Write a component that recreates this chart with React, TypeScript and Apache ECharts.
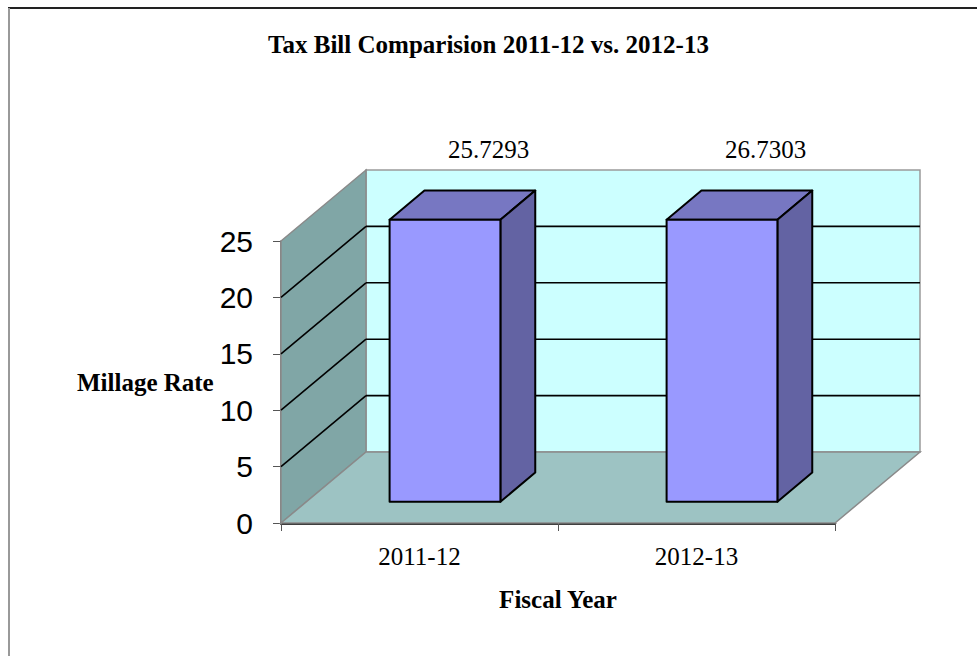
import React, { useEffect, useRef } from "react";
import * as echarts from "echarts";

const categories = ["2011-12", "2012-13"];
const millageRates = [25.7293, 26.7303];
const yTicks = [0, 5, 10, 15, 20, 25];

const DEPTH_X = 85;
const DEPTH_Y = -71;
const F1 = 0.3;
const F2 = 0.71;

export default function App() {
  const ref = useRef<HTMLDivElement>(null);
  useEffect(() => {
    document.body.style.margin = "0";
    const chart = echarts.init(ref.current!, null, { renderer: "svg" });
    const serif = "'Liberation Serif', 'Times New Roman', serif";
    const sans = "'Liberation Sans', Arial, sans-serif";

    const wallsRender = (params: any, api: any) => {
      const cs = params.coordSys;
      const x = cs.x, y = cs.y, w = cs.width, h = cs.height;
      const dx = DEPTH_X, dy = DEPTH_Y;
      const children: any[] = [];
      // back wall
      children.push({
        type: "rect",
        shape: { x: x + dx, y: y + dy, width: w, height: h },
        style: { fill: "#CCFFFF", stroke: "#9a9a9a", lineWidth: 1.5 },
      });
      // left wall
      children.push({
        type: "polygon",
        shape: { points: [[x, y], [x + dx, y + dy], [x + dx, y + h + dy], [x, y + h]] },
        style: { fill: "#80A6A6", stroke: "#8a8a8a", lineWidth: 1.5 },
      });
      // floor
      children.push({
        type: "polygon",
        shape: { points: [[x, y + h], [x + dx, y + h + dy], [x + w + dx, y + h + dy], [x + w, y + h]] },
        style: { fill: "#9DC3C3", stroke: "#8a8a8a", lineWidth: 1.5 },
      });
      yTicks.forEach((v) => {
        if (v === 0 || v === yTicks[yTicks.length - 1]) return;
        const yy = api.coord([0, v])[1];
        children.push({
          type: "line",
          shape: { x1: x + dx, y1: yy + dy, x2: x + w + dx, y2: yy + dy },
          style: { stroke: "#000", lineWidth: 1.6 },
        });
        children.push({
          type: "line",
          shape: { x1: x, y1: yy, x2: x + dx, y2: yy + dy },
          style: { stroke: "#000", lineWidth: 1.6 },
        });
      });
      return { type: "group", children };
    };

    const barsRender = (params: any, api: any) => {
      const cs = params.coordSys;
      const idx = api.value(0);
      const val = api.value(1);
      const base = api.coord([idx, 0]);
      const topPt = api.coord([idx, val]);
      const cx = base[0];
      const y0 = base[1];
      const y1 = Math.max(topPt[1], cs.y);
      const bw = api.size([1, 0])[0] * 0.4;
      const L1 = cx - bw / 2 + F1 * DEPTH_X;
      const R1 = cx + bw / 2 + F1 * DEPTH_X;
      const T1 = y1 + F1 * DEPTH_Y;
      const B1 = y0 + F1 * DEPTH_Y;
      const ox = (F2 - F1) * DEPTH_X;
      const oy = (F2 - F1) * DEPTH_Y;
      const stroke = { stroke: "#000", lineWidth: 2, lineJoin: "round" };
      return {
        type: "group",
        children: [
          {
            type: "polygon",
            shape: { points: [[L1, T1], [R1, T1], [R1 + ox, T1 + oy], [L1 + ox, T1 + oy]] },
            style: { fill: "#7777C2", ...stroke },
          },
          {
            type: "polygon",
            shape: { points: [[R1, T1], [R1 + ox, T1 + oy], [R1 + ox, B1 + oy], [R1, B1]] },
            style: { fill: "#6363A3", ...stroke },
          },
          {
            type: "rect",
            shape: { x: L1, y: T1, width: R1 - L1, height: B1 - T1 },
            style: { fill: "#9999FF", ...stroke },
          },
          {
            type: "text",
            x: cx + 69,
            y: T1 + oy - 41,
            style: {
              text: String(val),
              fill: "#000",
              font: `25px ${serif}`,
              align: "center",
              verticalAlign: "middle",
            },
          },
        ],
      };
    };

    chart.setOption({
      animation: false,
      backgroundColor: "#fff",
      title: {
        text: "Tax Bill Comparision 2011-12 vs. 2012-13",
        left: "center",
        top: 27,
        textStyle: { fontFamily: serif, fontWeight: "bold", fontSize: 25, color: "#000" },
      },
      graphic: [
        { type: "line", shape: { x1: 8, y1: 8, x2: 977, y2: 8 }, style: { stroke: "#222", lineWidth: 2 } },
        { type: "line", shape: { x1: 9, y1: 8, x2: 9, y2: 656 }, style: { stroke: "#999", lineWidth: 2 } },
      ],
      grid: { left: 281, right: 142, top: 241, bottom: 133 },
      xAxis: {
        type: "category",
        data: categories,
        axisLine: { lineStyle: { color: "#000", width: 2.5 } },
        axisTick: { show: true, length: 8, lineStyle: { color: "#555" } },
        axisLabel: { fontFamily: serif, fontSize: 25, color: "#000", margin: 21 },
        name: "Fiscal Year",
        nameLocation: "middle",
        nameGap: 64,
        nameTextStyle: { fontFamily: serif, fontWeight: "bold", fontSize: 25, color: "#000" },
      },
      yAxis: {
        type: "value",
        min: 0,
        max: 25,
        interval: 5,
        axisLine: { show: true, lineStyle: { color: "#555", width: 1.5 } },
        axisTick: { show: true, length: 8, lineStyle: { color: "#555" } },
        splitLine: { show: false },
        axisLabel: { fontFamily: sans, fontSize: 30, color: "#000", margin: 28 },
        name: "Millage Rate",
        nameLocation: "middle",
        nameRotate: 0,
        nameGap: 64,
        nameTextStyle: { fontFamily: serif, fontWeight: "bold", fontSize: 25, color: "#000", align: "right" },
      },
      series: [
        {
          type: "custom",
          silent: true,
          z: 1,
          renderItem: wallsRender,
          data: [[0, 0]],
        },
        {
          type: "custom",
          z: 3,
          renderItem: barsRender,
          data: millageRates.map((v, i) => [i, v]),
        },
      ],
    });
    return () => chart.dispose();
  }, []);
  return <div ref={ref} style={{ width: 977, height: 656 }} />;
}
